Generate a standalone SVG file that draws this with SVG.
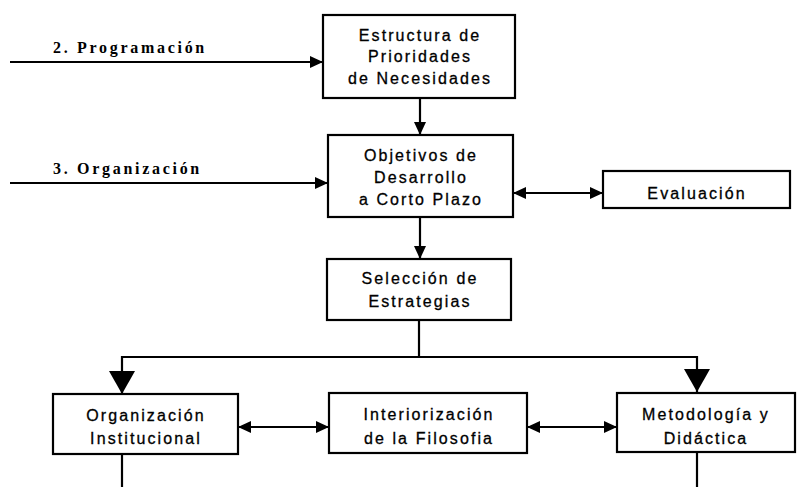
<svg xmlns="http://www.w3.org/2000/svg" width="797" height="487" viewBox="0 0 797 487">
<style>
.box{fill:#fff;stroke:#000;stroke-width:2.2}
.t{font-family:"Liberation Sans",Arial,sans-serif;font-size:16px;letter-spacing:2.1px;text-anchor:middle;fill:#000;stroke:#000;stroke-width:0.3}
.lbl{font-family:"Liberation Serif","Times New Roman",serif;font-size:16px;font-weight:bold;letter-spacing:2.7px;fill:#000}
.c{fill:none;stroke:#000;stroke-width:2.2}
</style>
<defs>
<marker id="a" markerUnits="userSpaceOnUse" markerWidth="13" markerHeight="12" refX="13" refY="6" orient="auto-start-reverse" viewBox="0 0 13 12"><path d="M0,0 L13,6 L0,12 z" fill="#000"/></marker>
<marker id="big" markerUnits="userSpaceOnUse" markerWidth="23" markerHeight="26" refX="23" refY="13" orient="auto" viewBox="0 0 23 26"><path d="M0,0 L23,13 L0,26 z" fill="#000"/></marker>
</defs>
<g id="connectors">
<line class="c" x1="10" y1="62" x2="323" y2="62" marker-end="url(#a)"/>
<line class="c" x1="10" y1="183" x2="328" y2="183" marker-end="url(#a)"/>
<line class="c" x1="420" y1="98" x2="420" y2="135" marker-end="url(#a)"/>
<line class="c" x1="513" y1="193" x2="603" y2="193" marker-start="url(#a)" marker-end="url(#a)"/>
<line class="c" x1="420" y1="217" x2="420" y2="259" marker-end="url(#a)"/>
<line class="c" x1="419" y1="320" x2="419" y2="357"/>
<path class="c" d="M419,357 H122 V394" marker-end="url(#big)"/>
<path class="c" d="M419,357 H697 V392" marker-end="url(#big)"/>
<line class="c" x1="238" y1="427" x2="329" y2="427" marker-start="url(#a)" marker-end="url(#a)"/>
<line class="c" x1="527" y1="427" x2="617" y2="427" marker-start="url(#a)" marker-end="url(#a)"/>
<line class="c" x1="122" y1="454" x2="122" y2="487"/>
<line class="c" x1="697" y1="452" x2="697" y2="487"/>
<text class="lbl" x="53" y="53">2. Programación</text>
<text class="lbl" x="53" y="174">3. Organización</text>
</g>
<g id="estructura">
<rect class="box" x="323" y="15" width="192" height="83"/>
<text class="t" x="420" y="41">Estructura de</text>
<text class="t" x="420" y="62">Prioridades</text>
<text class="t" x="420" y="84">de Necesidades</text>
</g>
<g id="objetivos">
<rect class="box" x="328" y="135" width="185" height="82"/>
<text class="t" x="421" y="161">Objetivos de</text>
<text class="t" x="421" y="183">Desarrollo</text>
<text class="t" x="421" y="205">a Corto Plazo</text>
</g>
<g id="evaluacion">
<rect class="box" x="603" y="171" width="187" height="37"/>
<text class="t" x="697" y="199">Evaluación</text>
</g>
<g id="seleccion">
<rect class="box" x="327" y="259" width="184" height="61"/>
<text class="t" x="420" y="284">Selección de</text>
<text class="t" x="420" y="307">Estrategias</text>
</g>
<g id="organizacion">
<rect class="box" x="53" y="394" width="185" height="60"/>
<text class="t" x="146" y="421">Organización</text>
<text class="t" x="146" y="444">Institucional</text>
</g>
<g id="interiorizacion">
<rect class="box" x="329" y="393" width="198" height="60"/>
<text class="t" x="429" y="420">Interiorización</text>
<text class="t" x="429" y="444">de la Filosofia</text>
</g>
<g id="metodologia">
<rect class="box" x="617" y="393" width="178" height="59"/>
<text class="t" x="706" y="420">Metodología y</text>
<text class="t" x="706" y="444">Didáctica</text>
</g>
</svg>
